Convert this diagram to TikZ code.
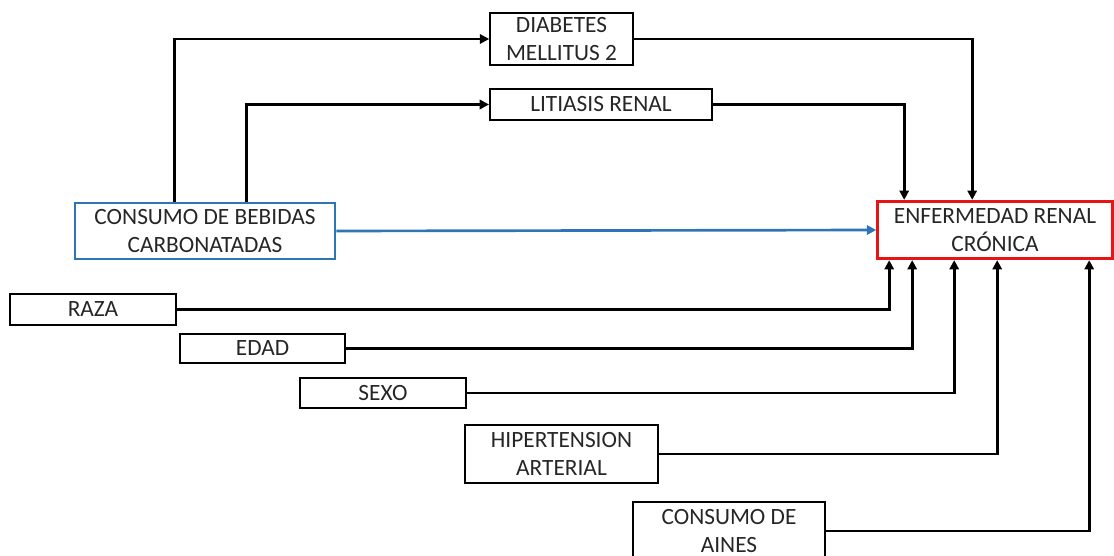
\documentclass[tikz,border=0pt]{standalone}
\usepackage{fontspec}
\setmainfont{Carlito}
\usetikzlibrary{arrows.meta,positioning,calc}

\definecolor{bebblue}{RGB}{46,117,182}
\definecolor{enfred}{RGB}{230,20,20}

\begin{document}
\begin{tikzpicture}[x=0.75pt,y=-0.75pt,
  box/.style={draw, line width=1.5pt, align=center, inner sep=0pt,
    font=\fontsize{17.5}{20.5}\selectfont, text=black!85},
  link/.style={line width=2pt, -{Triangle[length=7pt,width=7pt]}}]
  \clip (0,0) rectangle (1114,556);

  % main boxes
  \node[box, draw=bebblue, line width=2pt, minimum width=195pt, minimum height=42pt] (beb) at (205,231) {CONSUMO DE BEBIDAS\\CARBONATADAS};
  \node[box, draw=enfred, line width=2.2pt, minimum width=176pt, minimum height=43pt] (enf) at (995,230) {ENFERMEDAD RENAL\\CRÓNICA};

  % mediators
  \node[box, minimum width=107pt, minimum height=39pt] (dm) at (561.5,39) {DIABETES\\MELLITUS 2};
  \node[box, minimum width=166.5pt, minimum height=23pt] (lit) at (601,104.5) {LITIASIS RENAL};

  % other factors
  \node[box, minimum width=124.5pt, minimum height=23pt] (raza) at (93,309.5) {RAZA};
  \node[box, minimum width=124pt, minimum height=22pt] (edad) at (262.5,348.5) {EDAD};
  \node[box, minimum width=124.5pt, minimum height=22.5pt] (sexo) at (383,393) {SEXO};
  \node[box, minimum width=145pt, minimum height=43.5pt] (hta) at (561.5,454) {HIPERTENSION\\ARTERIAL};
  \node[box, minimum width=144pt, minimum height=43.5pt] (aines) at (729,531) {CONSUMO DE\\AINES};

  % paths through mediators
  \draw[link] ($(beb.north west)+(101,0)$) |- (dm.west);
  \draw[link] ($(beb.north west)+(173,0)$) |- (lit.west);
  \draw[link] (dm.east) -| ($(enf.north west)+(96,0)$);
  \draw[link] (lit.east) -| ($(enf.north west)+(28,0)$);

  % direct effect
  \draw[link, bebblue] (beb.east) -- (enf.west);

  % covariates
  \draw[link] (raza.east) -| ($(enf.south west)+(13,0)$);
  \draw[link] (edad.east) -| ($(enf.south west)+(36,0)$);
  \draw[link] (sexo.east) -| ($(enf.south west)+(78,0)$);
  \draw[link] (hta.east) -| ($(enf.south west)+(121,0)$);
  \draw[link] (aines.east) -| ($(enf.south west)+(213,0)$);
\end{tikzpicture}
\end{document}
